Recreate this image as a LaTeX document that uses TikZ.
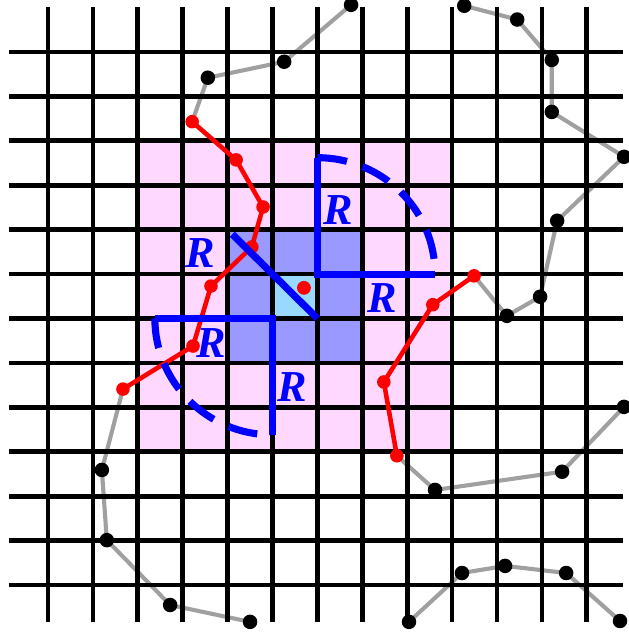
\documentclass[tikz,border=0pt]{standalone}
\usepackage{fontspec}
\setmainfont{Liberation Serif}
\definecolor{cellpink}{RGB}{255,216,255}
\definecolor{cellblue}{RGB}{153,153,255}
\definecolor{cellcyan}{RGB}{153,217,255}
\definecolor{walkgray}{RGB}{160,160,160}

\begin{document}
\begin{tikzpicture}[
    x=1cm, y=0.9893cm,
    gridline/.style={line width=3pt},
    walk/.style={line width=2.6pt, walkgray},
    hit/.style={line width=2.9pt, red},
    rline/.style={line width=4.5pt, blue},
    rarc/.style={rline, dash pattern=on 18.9pt off 10.4pt},
    rlabel/.style={text=blue, font=\fontsize{28}{28}\selectfont\bfseries\itshape, inner sep=0pt}
]
\useasboundingbox (-1.069,-1.103) rectangle (12.918,13.170);
\fill[cellpink] (2,3) rectangle (9,10);
\fill[cellblue] (4,5) rectangle (7,8);
\fill[cellcyan] (5,6) rectangle (6,7);

\coordinate (a1) at (6.75,13.06);
\coordinate (a2) at (5.26,11.78);
\coordinate (a3) at (3.56,11.42);
\coordinate (a4) at (3.21,10.43);
\coordinate (a5) at (4.19,9.57);
\coordinate (a6) at (4.79,8.51);
\coordinate (a7) at (4.54,7.61);
\coordinate (a8) at (3.63,6.73);
\coordinate (a9) at (3.23,5.38);
\coordinate (a10) at (1.67,4.41);
\coordinate (a11) at (1.20,2.59);
\coordinate (a12) at (1.31,1.01);
\coordinate (a13) at (2.72,-0.45);
\coordinate (a14) at (4.50,-0.83);

\coordinate (b1) at (9.27,13.04);
\coordinate (b2) at (10.45,12.73);
\coordinate (b3) at (11.22,11.82);
\coordinate (b4) at (11.22,10.65);
\coordinate (b5) at (12.83,9.64);
\coordinate (b6) at (11.34,8.20);
\coordinate (b7) at (10.96,6.49);
\coordinate (b8) at (10.22,6.06);
\coordinate (b9) at (9.49,6.96);
\coordinate (b10) at (8.57,6.31);
\coordinate (b11) at (7.48,4.57);
\coordinate (b12) at (7.77,2.91);
\coordinate (b13) at (8.62,2.14);
\coordinate (b14) at (11.45,2.55);
\coordinate (b15) at (12.83,4.01);

\coordinate (c1) at (8.04,-0.83);
\coordinate (c2) at (9.22,0.27);
\coordinate (c3) at (10.18,0.43);
\coordinate (c4) at (11.54,0.27);
\coordinate (c5) at (12.74,-0.81);

\coordinate (ctr) at (5.70,6.69);
\coordinate (ne) at (6,7);
\coordinate (sw) at (5,6);
\coordinate (se) at (6,6);

\draw[walk] (a1) -- (a2) -- (a3) -- (a4);
\draw[walk] (a10) -- (a11) -- (a12) -- (a13) -- (a14);
\draw[walk] (b1) -- (b2) -- (b3) -- (b4) -- (b5) -- (b6) -- (b7) -- (b8) -- (b9);
\draw[walk] (b12) -- (b13) -- (b14) -- (b15);
\draw[walk] (c1) -- (c2) -- (c3) -- (c4) -- (c5);

\foreach \i in {0,...,12} {
    \draw[gridline] (\i,-0.833) -- (\i,13.013);
    \draw[gridline] (-0.869,\i) -- (12.806,\i);
}

\foreach \p in {a1,a2,a3,a11,a12,a13,a14,b1,b2,b3,b4,b5,b6,b7,b8,b13,b14,b15,c1,c2,c3,c4,c5}
    \fill (\p) circle[radius=4.6pt];

\draw[hit] (a4) -- (a5) -- (a6) -- (a7) -- (a8) -- (a9) -- (a10);
\draw[hit] (b9) -- (b10) -- (b11) -- (b12);
\foreach \p in {a4,a5,a6,a7,a8,a9,a10,b9,b10,b11,b12}
    \fill[red] (\p) circle[radius=4.3pt];
\fill[red] (ctr) circle[radius=4.4pt];

\draw[rline] (ne) ++(0,2.62) -- (ne) -- ++(2.62,0);
\draw[rarc] (ne) ++(0,2.62) arc[start angle=90, end angle=0, radius=2.62];
\draw[rline] (sw) ++(-2.62,0) -- (sw) -- ++(0,-2.62);
\draw[rarc] (sw) ++(-2.62,0) arc[start angle=180, end angle=270, radius=2.62];
\draw[rline] (se) -- ++(135:2.68);

\node[rlabel] (rdiag) at (3.385,7.47) {R};
\node[rlabel] (rup) at (6.459,8.44) {R};
\node[rlabel] (rright) at (7.439,6.46) {R};
\node[rlabel] (rleft) at (3.630,5.45) {R};
\node[rlabel] (rdown) at (5.434,4.46) {R};
\end{tikzpicture}
\end{document}
